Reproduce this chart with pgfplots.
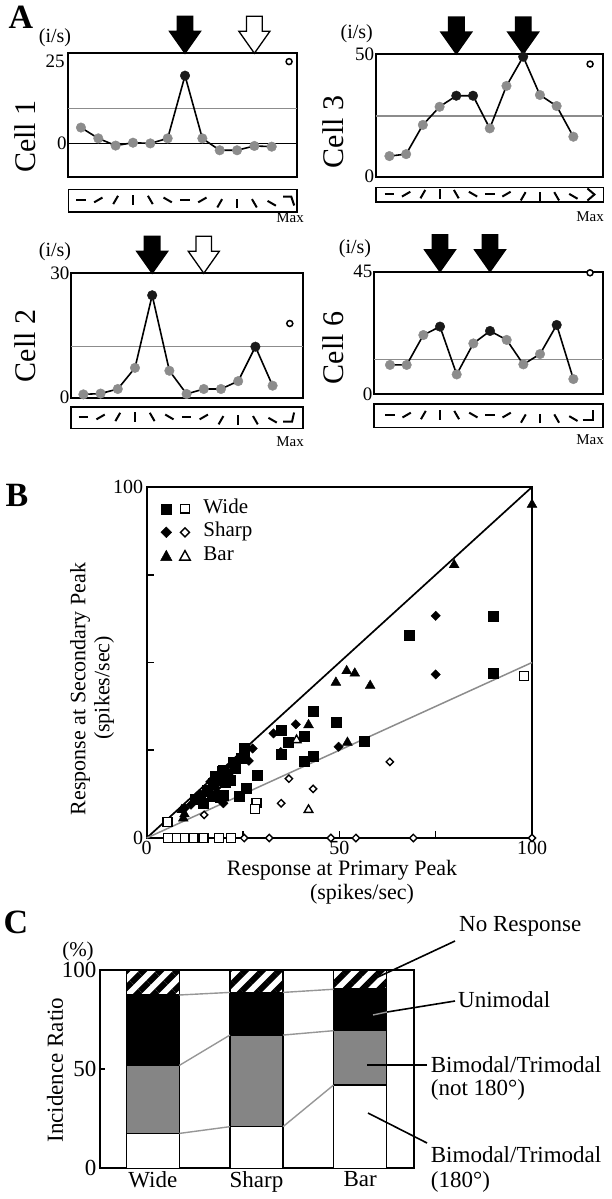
\documentclass[border=0pt]{standalone}
\usepackage{fontspec}
\setmainfont{Liberation Serif}
\usepackage{pgfplots}
\pgfplotsset{compat=1.18}
\usetikzlibrary{patterns.meta}
\definecolor{ptgray}{RGB}{140,140,140}
\definecolor{ptdark}{RGB}{25,25,25}
\definecolor{cgray}{RGB}{133,133,133}
\definecolor{lgray}{RGB}{150,150,150}

\pgfplotsset{
  every axis/.append style={scale only axis, clip=false, /pgf/number format/assume math mode=true, axis line style={line width=1.8bp}},
  cell/.style={anchor=south west, xtick=\empty, major tick length=0pt, tick label style={font=\fontsize{19bp}{19bp}\selectfont}, yticklabel style={inner sep=1.5bp}},
  strip/.style={anchor=south west, xtick=\empty, ytick=\empty, ymin=-1, ymax=1, axis line style={line width=1.6bp}},
  dataline/.style={black, line width=1.6bp, no marks},
  hline/.style={ptgray, line width=1.4bp, no marks},
  gpts/.style={only marks, mark=*, mark size=4.8bp, mark options={fill=ptgray, draw=ptgray}},
  dpts/.style={only marks, mark=*, mark size=4.8bp, mark options={fill=ptdark, draw=ptdark}},
  opt/.style={only marks, mark=*, mark size=3bp, mark options={fill=white, draw=black, line width=1.5bp}},
}

\newcommand{\downarr}[3]{\draw[line width=1.3bp, fill=#3, line join=miter] (axis cs:#1,#2) -- ++(-15.5bp,22bp) -- ++(7.7bp,0bp) -- ++(0bp,15bp) -- ++(15.6bp,0bp) -- ++(0bp,-15bp) -- ++(7.7bp,0bp) -- cycle;}

\newcommand{\glyphs}{%
 \pgfplotsinvokeforeach{1,...,8}{\draw[line width=2bp] ([shift={({mod(##1-1,6)*30}:-4.8bp)}]axis cs:##1,0.05) -- ([shift={({mod(##1-1,6)*30}:4.8bp)}]axis cs:##1,0.05);}%
 \pgfplotsinvokeforeach{9,...,12}{\draw[line width=2bp] ([shift={({mod(##1-1,6)*30}:-4.8bp)}]axis cs:##1,-0.25) -- ([shift={({mod(##1-1,6)*30}:4.8bp)}]axis cs:##1,-0.25);}%
}

\begin{document}
\begin{tikzpicture}
\useasboundingbox (0,0) rectangle (612bp,-1199bp);

% ================= Panel A =================
\node[font=\fontsize{34bp}{34bp}\selectfont\bfseries] at (21bp,-17bp) {A};

% ---- Cell 1
\begin{axis}[cell, at={(68.3bp,-177.3bp)}, width=228.4bp, height=124bp,
  xmin=0.27, xmax=13.44, ymin=-9.4, ymax=25, ytick={0,25}, yticklabels={0,}]
\addplot[hline] coordinates {(0.27,9.7) (13.44,9.7)};
\addplot[black, line width=1.8bp, no marks] coordinates {(0.27,0) (13.44,0)};
\addplot[dataline] coordinates {(1,4.4) (2,1.4) (3,-0.6) (4,0.2) (5,0) (6,1.4) (7,18.8) (8,1.4) (9,-1.9) (10,-1.9) (11,-0.7) (12,-0.9)};
\addplot[gpts] coordinates {(1,4.4) (2,1.4) (3,-0.6) (4,0.2) (5,0) (6,1.4) (8,1.4) (9,-1.9) (10,-1.9) (11,-0.7) (12,-0.9)};
\addplot[dpts] coordinates {(7,18.8)};
\addplot[opt] coordinates {(13,22.7)};
\downarr{7}{25}{black}
\downarr{11}{25}{white}
\end{axis}
\begin{axis}[strip, at={(68.3bp,-211.7bp)}, width=228.4bp, height=22.4bp, xmin=0.27, xmax=13.44]
\glyphs
\draw[line width=2bp] ([shift={(-5bp,4bp)}]axis cs:12.95,0) -- ([shift={(3bp,4bp)}]axis cs:12.95,0) -- ([shift={(6bp,-5bp)}]axis cs:12.95,0);
\end{axis}
\node[font=\fontsize{20bp}{20bp}\selectfont] at (55bp,-38bp) {(i/s)};
\node[font=\fontsize{19bp}{19bp}\selectfont] at (55bp,-61bp) {25};
\node[rotate=90, font=\fontsize{30bp}{30bp}\selectfont] at (25bp,-136.7bp) {Cell 1};
\node[font=\fontsize{15bp}{15bp}\selectfont] at (290bp,-218bp) {Max};

% ---- Cell 3
\begin{axis}[cell, at={(375.7bp,-176.7bp)}, width=227.6bp, height=122.7bp,
  xmin=0.18, xmax=13.79, ymin=0, ymax=50, ytick={0,50}]
\addplot[hline] coordinates {(0.18,24.7) (13.79,24.7)};
\addplot[dataline] coordinates {(1,8.4) (2,9.2) (3,21.1) (4,28.5) (5,33) (6,33) (7,19.7) (8,37) (9,48.9) (10,33.3) (11,28.8) (12,16.3)};
\addplot[gpts] coordinates {(1,8.4) (2,9.2) (3,21.1) (4,28.5) (7,19.7) (8,37) (10,33.3) (11,28.8) (12,16.3)};
\addplot[dpts] coordinates {(5,33) (6,33) (9,48.9)};
\addplot[opt] coordinates {(13,45.9)};
\downarr{5}{50}{black}
\downarr{9}{50}{black}
\end{axis}
\begin{axis}[strip, at={(375.7bp,-201.7bp)}, width=227.6bp, height=14.4bp, xmin=0.18, xmax=13.79]
\glyphs
\draw[line width=2bp] ([shift={(-3.5bp,6bp)}]axis cs:13.05,0) -- ([shift={(3.5bp,0bp)}]axis cs:13.05,0) -- ([shift={(-3.5bp,-6bp)}]axis cs:13.05,0);
\end{axis}
\node[font=\fontsize{20bp}{20bp}\selectfont] at (356.7bp,-34bp) {(i/s)};
\node[rotate=90, font=\fontsize{30bp}{30bp}\selectfont] at (333bp,-132bp) {Cell 3};
\node[font=\fontsize{15bp}{15bp}\selectfont] at (590bp,-216.7bp) {Max};

% ---- Cell 2
\begin{axis}[cell, at={(71bp,-397.7bp)}, width=231.7bp, height=124.4bp,
  xmin=0.28, xmax=13.75, ymin=0, ymax=30, ytick={0,30}]
\addplot[hline] coordinates {(0.28,12.3) (13.75,12.3)};
\addplot[dataline] coordinates {(1,0.8) (2,1.0) (3,2.1) (4,7.2) (5,24.7) (6,6.5) (7,0.9) (8,2.1) (9,2.1) (10,4.0) (11,12.3) (12,2.9)};
\addplot[gpts] coordinates {(1,0.8) (2,1.0) (3,2.1) (4,7.2) (6,6.5) (7,0.9) (8,2.1) (9,2.1) (10,4.0) (12,2.9)};
\addplot[dpts] coordinates {(5,24.7) (11,12.3)};
\addplot[opt] coordinates {(13,17.9)};
\downarr{5}{30}{black}
\downarr{8}{30}{white}
\end{axis}
\begin{axis}[strip, at={(71bp,-428.3bp)}, width=231.7bp, height=21.6bp, xmin=0.28, xmax=13.75]
\glyphs
\draw[line width=2bp] ([shift={(-5bp,-4bp)}]axis cs:12.9,0) -- ([shift={(4bp,-4bp)}]axis cs:12.9,0) -- ([shift={(6bp,5bp)}]axis cs:12.9,0);
\end{axis}
\node[font=\fontsize{20bp}{20bp}\selectfont] at (55bp,-252bp) {(i/s)};
\node[rotate=90, font=\fontsize{30bp}{30bp}\selectfont] at (25bp,-346bp) {Cell 2};
\node[font=\fontsize{15bp}{15bp}\selectfont] at (290bp,-441.7bp) {Max};

% ---- Cell 6
\begin{axis}[cell, at={(374bp,-394bp)}, width=228.7bp, height=122.3bp,
  xmin=0.04, xmax=13.76, ymin=0, ymax=45, ytick={0,45}]
\addplot[hline] coordinates {(0.04,12.7) (13.76,12.7)};
\addplot[dataline] coordinates {(1,10.7) (2,10.7) (3,21.7) (4,24.8) (5,7.2) (6,18.6) (7,23.2) (8,19.9) (9,10.9) (10,14.7) (11,25.4) (12,5.5)};
\addplot[gpts] coordinates {(1,10.7) (2,10.7) (3,21.7) (5,7.2) (6,18.6) (8,19.9) (9,10.9) (10,14.7) (12,5.5)};
\addplot[dpts] coordinates {(4,24.8) (7,23.2) (11,25.4)};
\addplot[opt] coordinates {(13,44.6)};
\downarr{4}{45}{black}
\downarr{7}{45}{black}
\end{axis}
\begin{axis}[strip, at={(374bp,-427.3bp)}, width=228.7bp, height=23.3bp, xmin=0.04, xmax=13.76]
\glyphs
\draw[line width=2bp] ([shift={(-5bp,-4bp)}]axis cs:12.85,0) -- ([shift={(5bp,-4bp)}]axis cs:12.85,0) -- ([shift={(5bp,6bp)}]axis cs:12.85,0);
\end{axis}
\node[font=\fontsize{20bp}{20bp}\selectfont] at (355bp,-249bp) {(i/s)};
\node[rotate=90, font=\fontsize{30bp}{30bp}\selectfont] at (333bp,-348bp) {Cell 6};
\node[font=\fontsize{15bp}{15bp}\selectfont] at (590bp,-440bp) {Max};

% ================= Panel B =================
\node[font=\fontsize{34bp}{34bp}\selectfont\bfseries] at (17bp,-495bp) {B};
\begin{axis}[at={(146.7bp,-838bp)}, anchor=south west, width=385.3bp, height=351bp,
  xmin=0, xmax=100, ymin=0, ymax=100,
  xtick={0,25,50,75,100}, xticklabels={0,,50,,100},
  ytick={0,25,50,75,100}, yticklabels={0,,,,100},
  tick pos=left, tick align=inside, major tick length=7bp,
  tick style={line width=1.6bp, black},
  tick label style={font=\fontsize{20bp}{20bp}\selectfont},
  legend cell align=left,
  legend style={at={(0.035,0.967)}, anchor=north west, draw=none, fill=none, inner sep=0pt,
    font=\fontsize{21bp}{21bp}\selectfont, row sep=3.5bp,
    nodes={inner sep=0.5bp, text height=14bp, text depth=5bp},
    /tikz/every odd column/.append style={column sep=12bp}}]
\addlegendimage{legend image code/.code={\draw[black,fill=black] (-5bp,-5bp) rectangle (5bp,5bp); \draw[black,fill=white,line width=1.4bp] (14.4bp,-4.4bp) rectangle (23.2bp,4.4bp);}}
\addlegendentry{Wide}
\addlegendimage{legend image code/.code={\draw[black,fill=black] (0bp,-5.4bp) -- (5.4bp,0bp) -- (0bp,5.4bp) -- (-5.4bp,0bp) -- cycle; \draw[black,fill=white,line width=1.4bp] (18.7bp,-4.5bp) -- (23.2bp,0bp) -- (18.7bp,4.5bp) -- (14.2bp,0bp) -- cycle;}}
\addlegendentry{Sharp}
\addlegendimage{legend image code/.code={\draw[black,fill=black] (-5.7bp,-4.8bp) -- (5.7bp,-4.8bp) -- (0bp,5.6bp) -- cycle; \draw[black,fill=white,line width=1.4bp] (13.4bp,-4.4bp) -- (24bp,-4.4bp) -- (18.7bp,5.2bp) -- cycle;}}
\addlegendentry{Bar}
\addplot[black, line width=1.7bp, no marks, forget plot] coordinates {(0,0) (100,100)};
\addplot[ptgray, line width=1.5bp, no marks, forget plot] coordinates {(0,0) (100,50)};
% Wide, filled
\addplot[only marks, mark=square*, mark size=5bp, mark options={fill=black, draw=black}, forget plot] coordinates {
(89.8,63.3) (68,57.9) (89.8,46.9) (43.1,36) (49.1,33.1) (34.8,30.6) (36.8,27.2) (40.8,28.9)
(34.8,23.9) (40.8,22) (43.1,23.2) (56.4,27.6) (28.7,17.9) (25.3,25.5) (25.3,23.6) (25.7,14.2)
(24,12) (22.5,21.5) (19.9,19.4) (17.7,17.5) (21.6,16.5) (19.9,16.5) (19.9,12.3) (17.2,15.5)
(15.6,13.7) (13.8,11.3) (12.5,11) (14.7,10) (16.9,11.8) (19.1,11.6) (20.3,16) (24.4,22.6)
(19.5,18.9) (23,20) (21,17.5)};
% Sharp, filled
\addplot[only marks, mark=square*, mark size=3.3bp, mark options={rotate=45, fill=black, draw=black}, forget plot] coordinates {
(75,63.3) (75,46.6) (38.7,32.4) (32.9,29.8) (34.8,24.5) (49.8,26) (27.5,25.5) (9.9,8.5)
(19.9,9.9) (14,12.5) (18,14.2) (22,19) (11.5,9.5) (16.5,16) (26.5,22)};
% Bar, filled
\addplot[only marks, mark=triangle*, mark size=5.7bp, mark options={fill=black, draw=black}, forget plot] coordinates {
(79.8,77.8) (100,95) (51.9,47.6) (54,46.9) (49.1,44.3) (58,43.4) (42,32.2) (52.1,27.2)
(9.1,8) (9.5,5.6) (9.8,6.8) (16,12.5) (20,17)};
% Wide, open
\addplot[only marks, mark=square*, mark size=4.5bp, mark options={fill=white, draw=black, line width=1.4bp}, forget plot] coordinates {
(97.9,46.2) (28.5,10) (28.1,8.2) (5.4,4.6) (5.6,0) (7.8,0) (9.9,0) (12.1,0) (14.7,0) (18.8,0) (21.9,0)};
% Sharp, open
\addplot[only marks, mark=square*, mark size=2.6bp, mark options={rotate=45, fill=white, draw=black, line width=1.4bp}, forget plot] coordinates {
(63.1,21.7) (36.9,16.9) (43.2,14) (34.9,9.9) (14.9,6.6) (25.3,0) (31.8,0) (47.8,0) (54.3,0) (69.2,0) (100,0)};
% Bar, open
\addplot[only marks, mark=triangle*, mark size=5bp, mark options={fill=white, draw=black, line width=1.4bp}, forget plot] coordinates {
(38.9,27.9) (42,8)};
\end{axis}
\node[font=\fontsize{22bp}{22bp}\selectfont] at (342bp,-870bp) {Response at Primary Peak};
\node[font=\fontsize{22bp}{22bp}\selectfont] at (362bp,-894bp) {(spikes/sec)};
\node[rotate=90, font=\fontsize{22bp}{22bp}\selectfont] at (80bp,-689bp) {Response at Secondary Peak};
\node[rotate=90, font=\fontsize{22bp}{22bp}\selectfont] at (104bp,-688bp) {(spikes/sec)};

% ================= Panel C =================
\node[font=\fontsize{34bp}{34bp}\selectfont\bfseries] at (16bp,-922bp) {C};
\begin{axis}[at={(100bp,-1168.3bp)}, anchor=south west, width=314bp, height=198.3bp,
  xmin=0.49, xmax=3.52, ymin=0, ymax=100, ybar stacked, bar width=0.512,
  xtick={1,2,3}, xticklabels={Wide,Sharp,Bar}, ytick={0,50,100},
  tick pos=left, tick align=inside, major tick length=5bp,
  xtick style={draw=none}, ytick style={line width=1.6bp, black},
  tick label style={font=\fontsize{23bp}{23bp}\selectfont},
  axis line style={line width=2bp}]
\addplot[fill=white, draw=black, line width=1.6bp] coordinates {(1,17.6) (2,21) (3,42)};
\addplot[fill=cgray, draw=black, line width=1.6bp] coordinates {(1,34.3) (2,46.2) (3,27.4)};
\addplot[fill=black, draw=black, line width=1.6bp] coordinates {(1,35.5) (2,21.5) (3,20.9)};
\addplot[draw=black, line width=1.6bp, pattern={Lines[angle=45,distance=12bp,line width=6bp]}, pattern color=black] coordinates {(1,12.6) (2,11.3) (3,9.7)};
\end{axis}
\begin{axis}[at={(100bp,-1168.3bp)}, anchor=south west, width=314bp, height=198.3bp,
  xmin=0.49, xmax=3.52, ymin=0, ymax=100, hide axis]
\addplot[lgray, line width=1.4bp] coordinates {(1.256,17.6) (1.744,21)};
\addplot[lgray, line width=1.4bp] coordinates {(1.256,51.9) (1.744,67.2)};
\addplot[lgray, line width=1.4bp] coordinates {(1.256,87.4) (1.744,88.7)};
\addplot[lgray, line width=1.4bp] coordinates {(2.256,21) (2.744,42)};
\addplot[lgray, line width=1.4bp] coordinates {(2.256,67.2) (2.744,69.4)};
\addplot[lgray, line width=1.4bp] coordinates {(2.256,88.7) (2.744,90.3)};
\end{axis}
\node[font=\fontsize{21bp}{21bp}\selectfont] at (78bp,-951.7bp) {(\%)};
\node[rotate=90, font=\fontsize{23bp}{23bp}\selectfont] at (55bp,-1070bp) {Incidence Ratio};
\begin{scope}[every node/.style={anchor=west, font=\fontsize{23bp}{23bp}\selectfont, inner sep=0pt}]
\node at (459bp,-926.7bp) {No Response};
\node at (458bp,-1000bp) {Unimodal};
\node at (430.7bp,-1065bp) {Bimodal/Trimodal};
\node at (430.7bp,-1090bp) {(not 180°)};
\node at (430.7bp,-1155bp) {Bimodal/Trimodal};
\node at (430.7bp,-1181.7bp) {(180°)};
\end{scope}
\draw[line width=1.6bp] (455bp,-941bp) -- (378bp,-977bp);
\draw[line width=1.6bp] (455bp,-1001bp) -- (387bp,-1012bp);
\draw[line width=1.4bp, lgray] (387bp,-1012bp) -- (373bp,-1015bp);
\draw[line width=1.6bp] (427bp,-1065bp) -- (367bp,-1065bp);
\draw[line width=1.6bp] (427bp,-1143bp) -- (368bp,-1113bp);
\end{tikzpicture}
\end{document}
